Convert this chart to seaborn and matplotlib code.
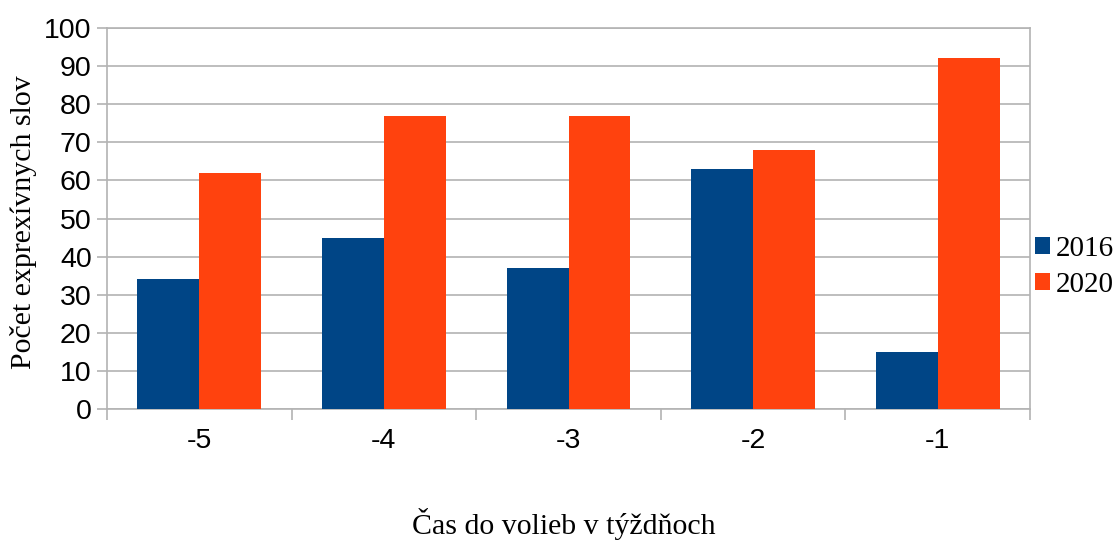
import matplotlib
matplotlib.use("Agg")
import matplotlib.pyplot as plt
import seaborn as sns
import pandas as pd
from matplotlib.patches import Patch

# Weeks before the election and counts of expressive words per campaign
weeks = ["-5", "-4", "-3", "-2", "-1"]
years = ["2016", "2020"]
counts_2016 = [34, 45, 37, 63, 15]
counts_2020 = [62, 77, 77, 68, 92]
y_ticks = [0, 10, 20, 30, 40, 50, 60, 70, 80, 90, 100]

colors = {"2016": "#004586", "2020": "#ff420e"}

df = pd.DataFrame({
    "week": weeks * 2,
    "year": [years[0]] * len(weeks) + [years[1]] * len(weeks),
    "count": counts_2016 + counts_2020,
})

sns.set_style("white")
plt.rcParams["text.color"] = "black"
plt.rcParams["axes.labelcolor"] = "black"
plt.rcParams["xtick.color"] = "black"
plt.rcParams["ytick.color"] = "black"
sans = "Liberation Sans"
serif = "Liberation Serif"

fig = plt.figure(figsize=(11.18, 5.43), dpi=100)
ax = fig.add_axes([0.0957, 0.2468, 0.9213 - 0.0957, 0.9484 - 0.2468])

sns.barplot(data=df, x="week", y="count", hue="year", order=weeks,
            hue_order=years, palette=colors, width=0.67, saturation=1,
            edgecolor="none", linewidth=0, ax=ax, legend=False, zorder=3)

ax.set_ylim(0, 100)
ax.set_xlim(-0.5, len(weeks) - 0.5)
ax.set_yticks(y_ticks)
ax.yaxis.grid(True, color="#b3b3b3", linewidth=1.2, zorder=0)
ax.set_axisbelow(True)

for side in ["left", "right", "top", "bottom"]:
    ax.spines[side].set_visible(True)
    ax.spines[side].set_color("#b3b3b3")
    ax.spines[side].set_linewidth(1.2)

# category boundaries carry the tick marks
ax.set_xticks([i - 0.5 for i in range(len(weeks) + 1)], minor=True)
ax.tick_params(axis="x", which="minor", length=8, width=1.2, color="#b3b3b3",
               direction="out", bottom=True)
ax.tick_params(axis="x", which="major", length=0, pad=14, labelcolor="black")
ax.tick_params(axis="y", which="major", length=7, width=1.2, color="#b3b3b3",
               direction="out", left=True, pad=4, labelcolor="black")

for lbl in ax.get_xticklabels() + ax.get_yticklabels():
    lbl.set_fontfamily(sans)
    lbl.set_fontsize(20.5)
    lbl.set_color("black")

ax.set_xlabel("Čas do volieb v týždňoch", fontfamily=serif, fontsize=21.5,
              color="black")
ax.xaxis.set_label_coords(0.495, -0.302)
ax.xaxis.label.set_va("center")
ax.set_ylabel("Počet exprexívnych slov", fontfamily=serif, fontsize=21.5,
              color="black")
ax.yaxis.set_label_coords(-0.09, 0.49)
ax.yaxis.label.set_va("center")

handles = [Patch(facecolor=colors[y], edgecolor="none", label=y) for y in years]
fig.legend(handles=handles, loc="center left",
           bbox_to_anchor=(1035 / 1118, 1 - 267 / 543),
           frameon=False, prop={"family": serif, "size": 21},
           handlelength=0.52, handleheight=0.52, handletextpad=0.2,
           labelspacing=0.35, borderaxespad=0, borderpad=0,
           labelcolor="black")

fig.savefig("out.png", dpi=100)
